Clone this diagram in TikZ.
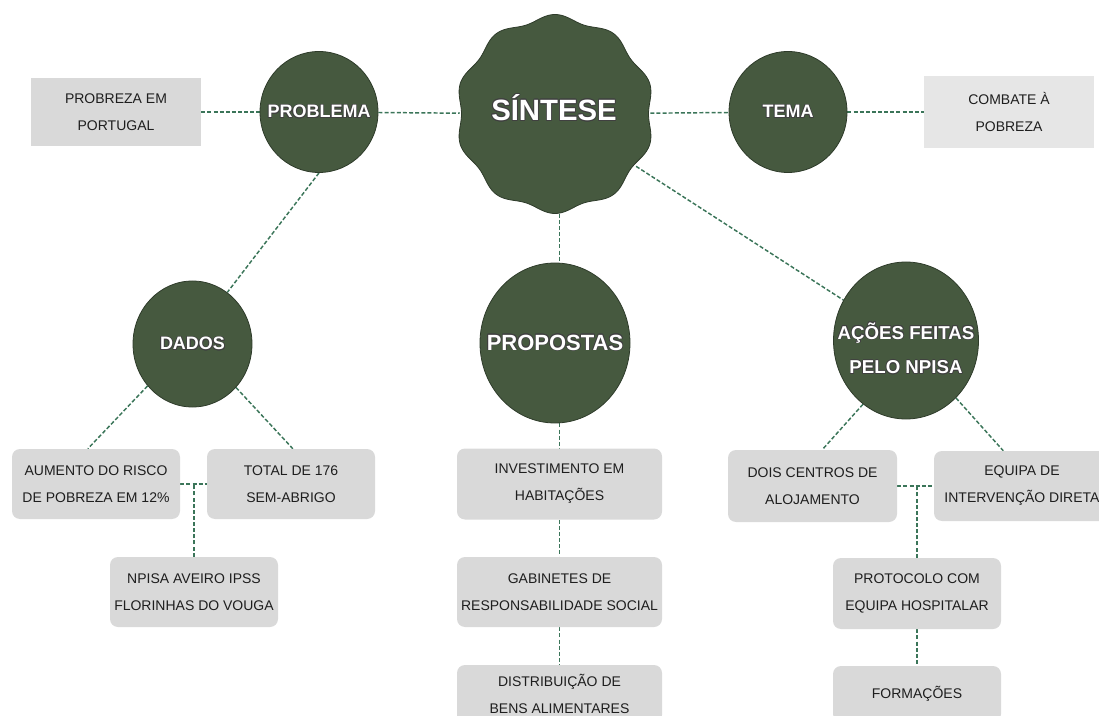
\documentclass[tikz,border=0pt]{standalone}
\usepackage{fontspec}
\setmainfont{Liberation Sans}
\usepackage{contour}
\contourlength{0.55pt}
\usetikzlibrary{shapes.geometric,backgrounds}

\definecolor{mossgreen}{HTML}{46593F}
\definecolor{mossdark}{HTML}{2E3B2A}
\definecolor{linkgreen}{HTML}{3B7559}
\definecolor{boxgray}{HTML}{D9D9D9}
\definecolor{boxlight}{HTML}{E6E6E6}
\definecolor{inkgray}{HTML}{1E1E1E}

% white caption with dark rim, no width of its own
\newcommand{\glow}[1]{\makebox[0pt]{\contour{black!75}{#1}}}

\tikzset{
  boxsize/.style 2 args={minimum width=#1*0.75pt, minimum height=#2*0.75pt},
  bubble/.style={ellipse, fill=mossgreen, draw=mossdark, line width=0.6pt,
    inner sep=0pt, text=white, align=center,
    font=\bfseries\fontsize{13.5}{26}\selectfont},
  note/.style={rectangle, fill=boxgray, inner sep=0pt, text=inkgray,
    align=center, font=\fontsize{10.5}{20.25}\selectfont},
  card/.style={note, rounded corners=6pt},
  link/.style={draw=linkgreen, line width=1.1pt, dash pattern=on 3pt off 1.6pt},
}

\begin{document}
\begin{tikzpicture}[x=0.75pt,y=-0.75pt]
  \clip (0,0) rectangle (1099,716);

  % top row
  \node[note, boxsize={170}{68}] (pobreza) at (116,112) {PROBREZA EM\\PORTUGAL};
  \node[bubble, boxsize={118}{121}] (problema) at (319,112) {\glow{PROBLEMA}};

  \fill[mossgreen, draw=mossdark, line width=0.6pt, shift={(555,114)}]
    plot[domain=0:360, samples=361] (\x:{96.5-3*cos(10*\x)}) -- cycle;
  \node[ellipse, inner sep=0pt, boxsize={190}{199}] (sintese) at (555,114) {};
  \node[text=white, font=\bfseries\fontsize{22}{26}\selectfont]
    (sintesetxt) at (554,108) {\glow{SÍNTESE}};

  \node[bubble, boxsize={118}{121}] (tema) at (788,112) {\glow{TEMA}};
  \node[note, fill=boxlight, boxsize={170}{72}] (combate) at (1009,112) {COMBATE À\\POBREZA};

  % middle row
  \node[bubble, boxsize={119}{126}] (dados) at (192.5,344) {\glow{DADOS}};
  \node[bubble, boxsize={150}{160}, font=\bfseries\fontsize{16.5}{20}\selectfont]
    (propostas) at (555,343) {\glow{PROPOSTAS}};
  \node[bubble, boxsize={145}{157}] (acoes) at (906,340.5) {};
  \node[text=white, align=center, font=\bfseries\fontsize{14}{26}\selectfont]
    (acoestxt) at (906,348.5) {\glow{AÇÕES FEITAS}\\\glow{PELO NPISA}};

  % dados
  \node[card, boxsize={168}{70}] (aumento) at (96,484) {AUMENTO DO RISCO\\DE POBREZA EM 12\%};
  \node[card, boxsize={168}{70}] (total) at (291,484) {TOTAL DE 176\\SEM-ABRIGO};
  \node[card, boxsize={168}{70}] (npisa) at (194,592) {NPISA AVEIRO IPSS\\FLORINHAS DO VOUGA};

  % propostas
  \node[card, boxsize={205}{71}] (invest) at (559.5,484) {INVESTIMENTO EM\\HABITAÇÕES};
  \node[card, boxsize={205}{70}] (gabinete) at (559.5,592) {GABINETES DE\\RESPONSABILIDADE SOCIAL};
  \node[card, boxsize={205}{58}] (distrib) at (559.5,694) {DISTRIBUIÇÃO DE\\BENS ALIMENTARES};

  % acoes
  \node[card, boxsize={169}{72}] (dois) at (812.5,486) {DOIS CENTROS DE\\ALOJAMENTO};
  \node[card, boxsize={176}{70}] (equipa) at (1022,486) {EQUIPA DE\\INTERVENÇÃO DIRETA};
  \node[card, boxsize={168}{71}] (protocolo) at (917,593.5) {PROTOCOLO COM\\EQUIPA HOSPITALAR};
  \node[card, boxsize={168}{56}] (formacoes) at (917,694) {FORMAÇÕES};

  \begin{scope}[on background layer]
    \draw[link] (pobreza) -- (problema);
    \draw[link] (problema) -- (sintese);
    \draw[link] (sintese) -- (tema);
    \draw[link] (tema) -- (combate);
    \draw[link] (problema.south) -- (dados.56);
    \draw[link] (sintese) -- (acoes);
    \draw[link] (sintese.south -| invest.north) -- (propostas.north -| invest.north);
    \draw[link] (invest.north |- propostas.south) -- (invest.north);
    \draw[link] (invest) -- (gabinete);
    \draw[link] (gabinete) -- (distrib);

    \draw[link] (dados.223) -- (aumento.103);
    \draw[link] (dados.315) -- (total.87);
    \draw[link] (aumento) -- (total);
    \draw[link] (npisa.north) -- (npisa.north |- aumento.east);

    \draw[link] (acoes.236) -- (dois.75);
    \draw[link] (acoes.311) -- (equipa.118);
    \draw[link] (dois) -- (equipa);
    \draw[link] (protocolo.north) -- (protocolo.north |- dois.east);
    \draw[link] (protocolo) -- (formacoes);
  \end{scope}
\end{tikzpicture}
\end{document}
